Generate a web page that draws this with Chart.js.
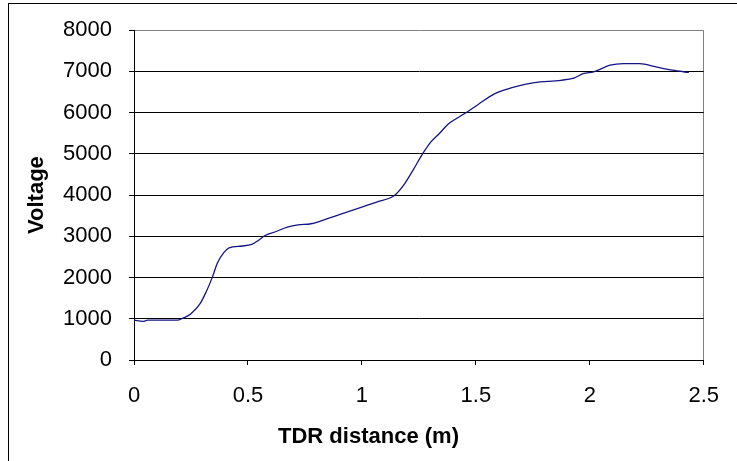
<!DOCTYPE html>
<html>
<head>
<meta charset="utf-8">
<script src="https://cdn.jsdelivr.net/npm/chart.js@4.4.1/dist/chart.umd.min.js"></script>
<style>
  html, body { margin: 0; padding: 0; background: #fff; }
  #wrap { position: relative; width: 737px; height: 461px; overflow: hidden; }
  #frame { position: absolute; left: 8px; top: 3px; width: 800px; height: 600px; border: 1px solid #000; }
  #tdrChart { position: absolute; left: 0; top: 0; }
</style>
</head>
<body>
<div id="wrap">
  <div id="frame"></div>
  <canvas id="tdrChart" width="737" height="461"></canvas>
</div>
<script>
// TDR trace: distance (m) against measured voltage
const distance = [0, 0.04, 0.06, 0.19, 0.215, 0.25, 0.29, 0.316, 0.344, 0.366, 0.395, 0.417,
    0.474, 0.517, 0.546, 0.575, 0.618, 0.673, 0.72, 0.777, 0.849, 0.921, 0.993, 1.065,
    1.123, 1.144, 1.188, 1.224, 1.267, 1.303, 1.339, 1.382, 1.455, 1.512, 1.584, 1.671,
    1.757, 1.873, 1.93, 1.974, 2.017, 2.089, 2.147, 2.219, 2.291, 2.363, 2.435];
const voltage = [965, 935, 965, 965, 1015, 1120, 1365, 1645, 2010, 2355, 2610, 2720,
    2765, 2805, 2900, 3020, 3105, 3225, 3280, 3305, 3430, 3565, 3695, 3830,
    3930, 3995, 4280, 4600, 5005, 5290, 5490, 5735, 5990, 6205, 6460, 6625,
    6730, 6785, 6840, 6950, 6990, 7150, 7190, 7190, 7110, 7030, 6975];

const xTicks = [0, 0.5, 1, 1.5, 2, 2.5];
const yTicks = [0, 1000, 2000, 3000, 4000, 5000, 6000, 7000, 8000];

const xTitle = 'TDR distance (m)';
const yTitle = 'Voltage';

const points = distance.map((d, i) => ({ x: d, y: voltage[i] }));

// x axis title sits centred on the whole canvas, not the plot
const xTitlePlugin = {
    id: 'xTitle',
    afterDraw(chart) {
        const ctx = chart.ctx;
        ctx.save();
        ctx.font = 'bold 22px "Liberation Sans", Arial, sans-serif';
        ctx.fillStyle = '#000';
        ctx.textAlign = 'center';
        ctx.textBaseline = 'middle';
        ctx.fillText(xTitle, chart.width / 2, 437);
        ctx.restore();
    }
};

const ctx = document.getElementById('tdrChart').getContext('2d');
new Chart(ctx, {
    type: 'line',
    data: {
        datasets: [{
            data: points,
            borderColor: '#141485',
            borderWidth: 1.3,
            pointRadius: 0,
            cubicInterpolationMode: 'monotone',
            fill: false
        }]
    },
    options: {
        responsive: false,
        animation: false,
        layout: { padding: { top: 30, right: 25, left: 0, bottom: 0 } },
        plugins: {
            legend: { display: false },
            tooltip: { enabled: false }
        },
        scales: {
            x: {
                type: 'linear',
                min: 0,
                max: 2.5,
                afterBuildTicks: (scale) => { scale.ticks = xTicks.map(v => ({ value: v })); },
                afterFit: (scale) => { scale.height = 101; },
                ticks: {
                    color: '#000',
                    padding: 18,
                    font: { family: '"Liberation Sans", Arial, sans-serif', size: 22 },
                    callback: (v) => String(v)
                },
                grid: {
                    drawOnChartArea: true,
                    color: (c) => c.tick && c.tick.value === 2.5 ? '#808080' : 'rgba(0,0,0,0)',
                    tickColor: '#000',
                    tickLength: 5
                },
                border: { color: '#000', width: 1 }
            },
            y: {
                min: 0,
                max: 8000,
                afterBuildTicks: (scale) => { scale.ticks = yTicks.map(v => ({ value: v })); },
                afterFit: (scale) => { scale.width = 134; },
                ticks: {
                    color: '#000',
                    padding: 17,
                    font: { family: '"Liberation Sans", Arial, sans-serif', size: 22 },
                    callback: (v) => String(v)
                },
                grid: {
                    color: (c) => c.tick && c.tick.value === 8000 ? '#808080' : '#000',
                    tickColor: '#000',
                    tickLength: 5
                },
                border: { color: '#000', width: 1 },
                title: {
                    display: true,
                    text: yTitle,
                    color: '#000',
                    padding: { top: 24, bottom: 0 },
                    font: { family: '"Liberation Sans", Arial, sans-serif', size: 22, weight: 'bold' }
                }
            }
        }
    },
    plugins: [xTitlePlugin]
});
</script>
</body>
</html>
